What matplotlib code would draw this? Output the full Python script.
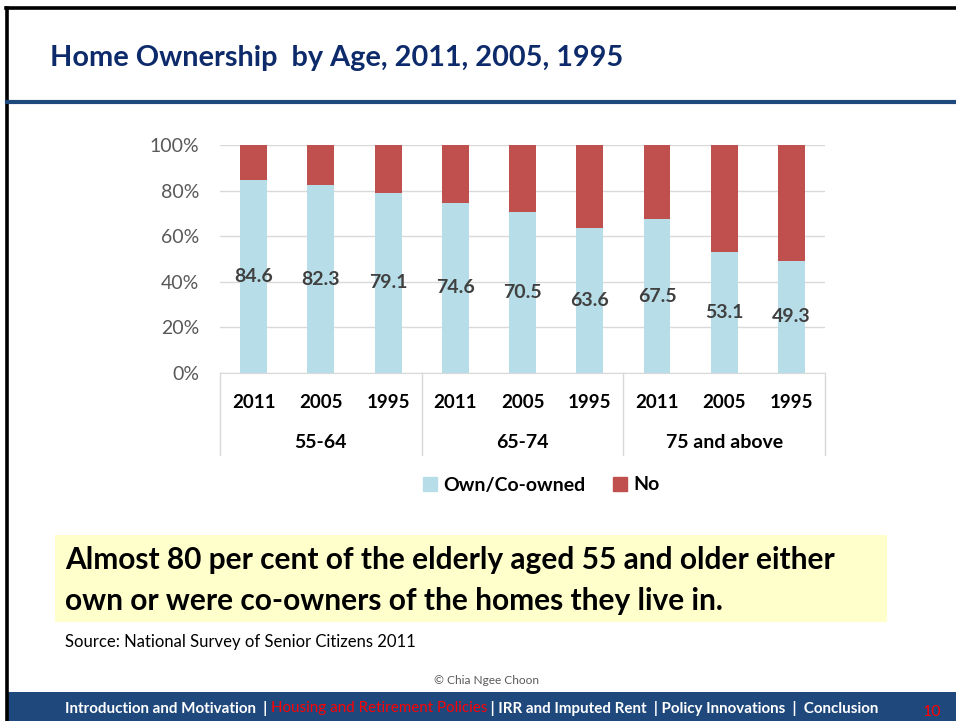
import matplotlib
matplotlib.use("Agg")
import matplotlib.pyplot as plt
from matplotlib.patches import Rectangle
from matplotlib.lines import Line2D
import matplotlib.transforms as mtransforms

# ---- data ----
years = ["2011", "2005", "1995"] * 3
age_groups = ["55-64", "65-74", "75 and above"]
own = [84.6, 82.3, 79.1, 74.6, 70.5, 63.6, 67.5, 53.1, 49.3]
not_own = [100 - v for v in own]
y_ticks = [0, 20, 40, 60, 80, 100]
series_names = ["Own/Co-owned", "No"]

W, H = 956, 721
FONT = "Lato"
NAVY = "#1F497D"
TITLE_C = "#0D2A6B"
OWN_C = "#B7DEE8"
NO_C = "#C0504D"

fig = plt.figure(figsize=(W / 100, H / 100), dpi=100)
fig.patch.set_facecolor("white")


def fx(x):
    return x / W


def fy(y):
    return 1 - y / H


# slide frame
fig.add_artist(Line2D([fx(7), fx(7)], [fy(8), fy(721)], color="black", lw=2.6))
fig.add_artist(Line2D([fx(6), fx(956)], [fy(8), fy(8)], color="black", lw=2.6))
fig.add_artist(Line2D([fx(7), fx(956)], [fy(102), fy(102)], color=NAVY, lw=3))

# title
fig.text(fx(50), fy(58), "Home Ownership  by Age, 2011, 2005, 1995", family=FONT,
         weight="bold", fontsize=20.8, color=TITLE_C, va="center", ha="left")

# chart
ax = fig.add_axes([fx(220), fy(373), (825 - 220) / W, (373 - 145) / H])
x = list(range(len(own)))
ax.bar(x, own, width=0.4, color=OWN_C, zorder=3, label=series_names[0])
ax.bar(x, not_own, width=0.4, bottom=own, color=NO_C, zorder=3, label=series_names[1])
for xi, v in zip(x, own):
    ax.text(xi, v / 2, f"{v:.1f}", ha="center", va="center", family=FONT,
            weight="bold", fontsize=14, color="#404040", zorder=4)

ax.set_xlim(-0.5, len(own) - 0.5)
ax.set_ylim(0, 100)
ax.set_yticks(y_ticks)
ax.set_yticklabels([f"{t}%" for t in y_ticks], family=FONT, fontsize=14, color="#595959")
ax.tick_params(axis="y", length=0, pad=15)
ax.set_xticks(x)
ax.set_xticklabels(years, family=FONT, weight="bold", fontsize=13.5, color="black")
ax.tick_params(axis="x", length=0, pad=15)
ax.grid(axis="y", color="#D9D9D9", lw=1, zorder=0)
for s in ["top", "right", "left"]:
    ax.spines[s].set_visible(False)
ax.spines["bottom"].set_color("#D9D9D9")

trans = mtransforms.blended_transform_factory(ax.transData, ax.transAxes)
sep_bottom = -(455 - 373) / 228
for sx in [-0.5, 2.5, 5.5, 8.5]:
    ax.add_line(Line2D([sx, sx], [0, sep_bottom], transform=trans, color="#D9D9D9",
                       lw=1, clip_on=False))
for gi, g in enumerate(age_groups):
    ax.text(gi * 3 + 1, -(442 - 373) / 228, g, transform=trans, ha="center", va="center",
            family=FONT, weight="bold", fontsize=14, color="black")

leg = fig.legend(handles=[Rectangle((0, 0), 1, 1, color=OWN_C), Rectangle((0, 0), 1, 1, color=NO_C)],
                 labels=series_names, loc="center", bbox_to_anchor=(fx(541), fy(485)),
                 ncol=2, frameon=False, handlelength=0.75, handleheight=0.75,
                 handletextpad=0.3, columnspacing=1.4,
                 prop={"family": FONT, "weight": "bold", "size": 14})

# highlight box
fig.add_artist(Rectangle((fx(55), fy(622)), (887 - 55) / W, (622 - 535) / H,
                         facecolor="#FFFFCC", edgecolor="none"))
fig.text(fx(65), fy(560), "Almost 80 per cent of the elderly aged 55 and older either",
         family=FONT, weight="bold", fontsize=21.5, color="black", va="center")
fig.text(fx(65), fy(601), "own or were co-owners of the homes they live in.",
         family=FONT, weight="bold", fontsize=21.5, color="black", va="center")

fig.text(fx(65), fy(642), "Source: National Survey of Senior Citizens 2011",
         family=FONT, fontsize=12, color="black", va="center")
fig.text(fx(486), fy(681), "\u00a9 Chia Ngee Choon", family=FONT, fontsize=8.6,
         color="#595959", va="center", ha="center")

# footer band
fig.add_artist(Rectangle((fx(7), 0), 1, (721 - 692) / H, facecolor=NAVY, edgecolor="none"))
fy_f = fy(708)
FS_F = 10.9
t1 = fig.text(fx(65), fy_f, "Introduction and Motivation  | ", family=FONT, weight="bold",
              fontsize=FS_F, color="white", va="center")
fig.canvas.draw()
r = fig.canvas.get_renderer()
bb = t1.get_window_extent(r)
t2 = fig.text(bb.x1 / W, fy_f, "Housing and Retirement Policies", family=FONT,
              fontsize=FS_F, color="#FF0000", va="center")
bb = t2.get_window_extent(r)
fig.text(bb.x1 / W, fy_f, " | IRR and Imputed Rent  | Policy Innovations  |  Conclusion",
         family=FONT, weight="bold", fontsize=FS_F, color="white", va="center")
fig.text(fx(932), fy(712), "10", family=FONT, fontsize=11.5, color="#FF0000",
         va="center", ha="center")

fig.savefig("out.png", dpi=100)
